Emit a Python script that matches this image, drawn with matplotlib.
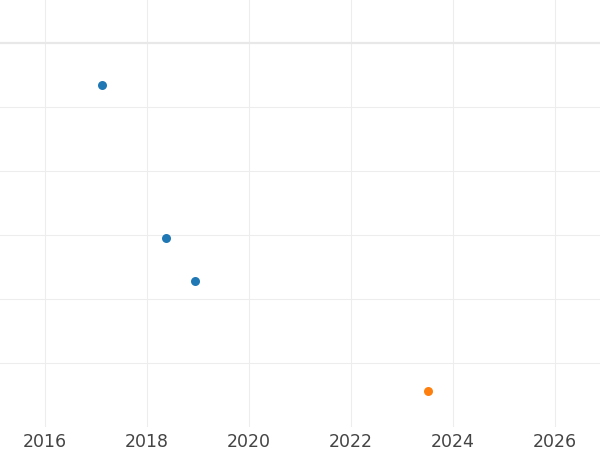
import matplotlib
matplotlib.use("Agg")
import matplotlib.pyplot as plt

# data (y in arbitrary units, no y labels shown)
blue_x = [2017.12, 2018.37, 2018.94]
blue_y = [4.34, 1.95, 1.28]
orange_x = [2023.51]
orange_y = [-0.44]

xticks = [2016, 2018, 2020, 2022, 2024, 2026]
yticks = [0, 1, 2, 3, 4]

fig = plt.figure(figsize=(6, 4.5), dpi=100)
ax = fig.add_axes([0, 1 - 427 / 450, 1, 427 / 450])

ax.set_xlim(2015.12, 2026.88)
ax.set_ylim(-1, 5.67)

for xt in xticks:
    ax.axvline(xt, color="#ededed", lw=0.8, zorder=0)
for yt in yticks:
    ax.axhline(yt, color="#ededed", lw=0.8, zorder=0)
ax.axhline(5, color="#e8e8e8", lw=1.6, zorder=0)

ax.scatter(blue_x, blue_y, s=42, color="#1f77b4", zorder=3, linewidths=0)
ax.scatter(orange_x, orange_y, s=42, color="#ff7f0e", zorder=3, linewidths=0)

ax.set_xticks(xticks)
ax.set_xticklabels([str(t) for t in xticks], fontsize=12.5, color="#444444")
ax.set_yticks([])
ax.tick_params(axis="x", length=0, pad=4)
for s in ax.spines.values():
    s.set_visible(False)

fig.savefig("out.png", dpi=100)
